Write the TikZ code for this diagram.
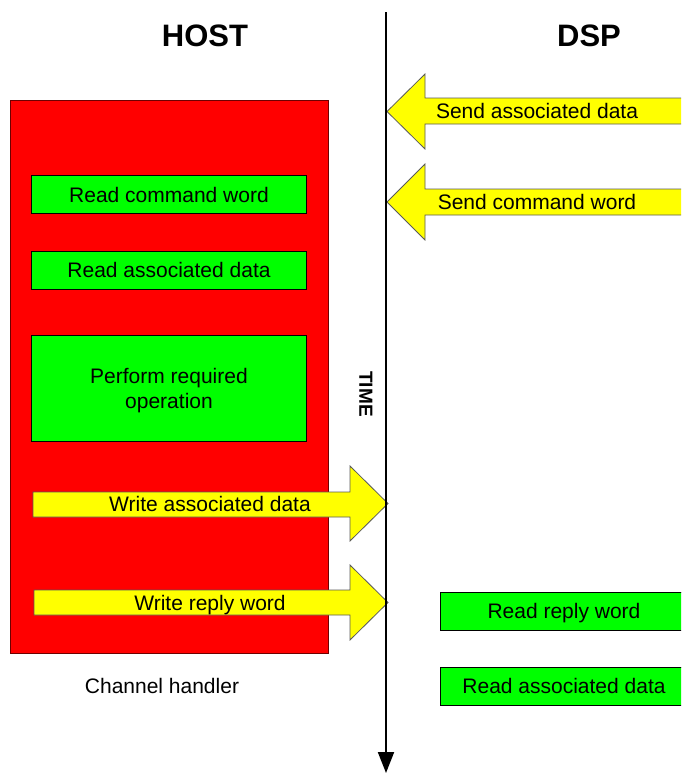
\documentclass[tikz,border=0pt]{standalone}
\usepackage{fontspec}
\setmainfont{Liberation Sans}
\usetikzlibrary{arrows.meta}
\definecolor{hred}{RGB}{255,0,0}
\definecolor{hgreen}{RGB}{0,255,0}
\definecolor{hyellow}{RGB}{255,255,0}
\definecolor{hborder}{RGB}{110,0,0}
\begin{document}
\begin{tikzpicture}[x=1pt,y=-1pt,
  plain/.style={font=\fontsize{21}{25}\selectfont, inner sep=0pt},
  txt/.style={plain, text height=15pt, text depth=0pt},
  title/.style={font=\fontsize{31}{36}\selectfont\bfseries, inner sep=0pt},
  task/.style={draw=black, fill=hgreen, line width=0.8pt, inner sep=0pt},
  msg/.style={draw=black!65, fill=hyellow, line width=0.8pt, line join=miter},
  timeline/.style={line width=2pt, -{Triangle[length=21pt,width=16pt]}}]
  \useasboundingbox (0,0) rectangle (681,774);
  \clip (0,0) rectangle (681,774);

  % column titles
  \node[title] (host) at (205,36) {HOST};
  \node[title] (dsp) at (589,36) {DSP};

  % channel handler block on the host side
  \node[draw=hborder, fill=hred, line width=1pt, minimum width=318pt,
        minimum height=553pt, inner sep=0pt] (handler) at (169,376.5) {};
  \node[txt] (handlerlbl) at (162,686) {Channel handler};

  % host tasks
  \node[task, minimum width=275pt, minimum height=38pt] (rcw) at (169,194.5) {};
  \node[txt] at (rcw.center) {Read command word};
  \node[task, minimum width=275pt, minimum height=38pt] (rad) at (169,270) {};
  \node[txt] at (rad.center) {Read associated data};
  \node[task, minimum width=275pt, minimum height=106pt] (pro) at (169,388) {};
  \node[plain, align=center] at (169,391) {Perform required\\operation};

  % DSP tasks
  \node[task, minimum width=250pt, minimum height=38pt] (rrw) at (565,611) {};
  \node[txt] at (564,611) {Read reply word};
  \node[task, minimum width=250pt, minimum height=38pt] (drad) at (565,686) {};
  \node[txt] at (564,686) {Read associated data};

  % messages from DSP to host
  \draw[msg] (690,98) -- (425,98) -- (425,74) -- (387,111.5) -- (425,149)
             -- (425,124) -- (690,124) -- cycle;
  \node[txt] (sad) at (537,111) {Send associated data};
  \draw[msg] (690,189) -- (425,189) -- (425,164) -- (387,202) -- (425,240)
             -- (425,215) -- (690,215) -- cycle;
  \node[txt] (scw) at (537,202) {Send command word};

  % messages from host to DSP
  \draw[msg] (33,492) -- (350,492) -- (350,466) -- (388,503.5) -- (350,541)
             -- (350,517) -- (33,517) -- cycle;
  \node[txt] (wad) at (210,504) {Write associated data};
  \draw[msg] (34,590) -- (350,590) -- (350,565) -- (388,602.5) -- (350,640)
             -- (350,615) -- (34,615) -- cycle;
  \node[txt] (wrw) at (210,602.5) {Write reply word};

  % time axis
  \coordinate (tstart) at (386,12);
  \coordinate (tend) at (386,773);
  \draw[timeline] (tstart) -- (tend);
  \node[font=\fontsize{19}{22}\selectfont\bfseries, inner sep=0pt, rotate=-90]
       (time) at (366,394) {TIME};
\end{tikzpicture}
\end{document}
